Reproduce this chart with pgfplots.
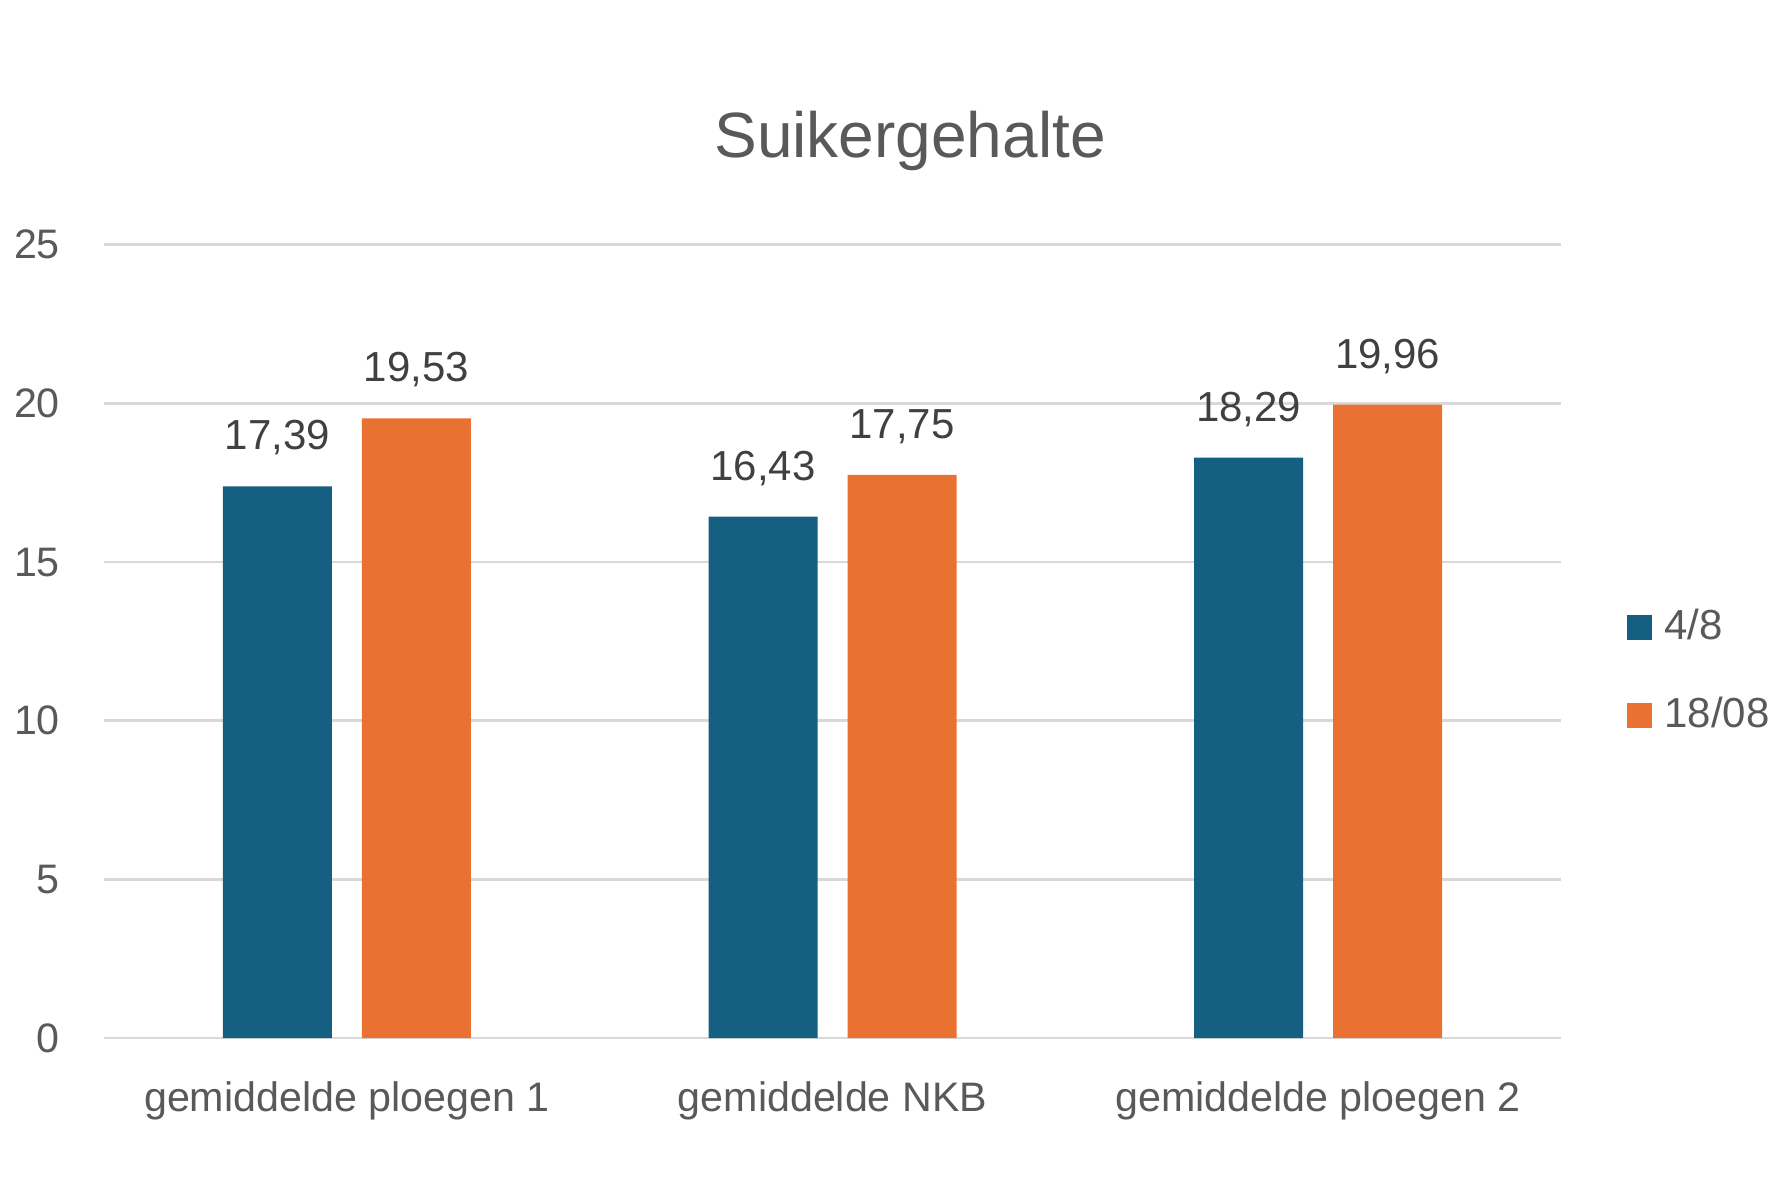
\documentclass[border=0pt]{standalone}
\usepackage{fontspec}
\setmainfont{Liberation Sans}
\usepackage{pgfplots}
\pgfplotsset{compat=1.18}
\definecolor{cblue}{HTML}{156082}
\definecolor{corange}{HTML}{E97132}
\definecolor{cgrid}{HTML}{D9D9D9}
\definecolor{ctext}{HTML}{595959}
\definecolor{clabel}{HTML}{404040}
\begin{document}
\begin{tikzpicture}
\useasboundingbox (0,0) rectangle (443pt,295.25pt);
\begin{axis}[
 at={(26pt,35.75pt)}, anchor=south west,
 scale only axis, width=364.25pt, height=198.3pt,
 xmin=-0.5, xmax=2.5, ymin=0, ymax=25,
 xtick={0,1,2}, xticklabels={gemiddelde ploegen 1, gemiddelde NKB, gemiddelde ploegen 2},
 ytick={0,5,...,25},
 major tick length=0pt,
 axis line style={draw=none},
 ymajorgrids, grid style={cgrid, line width=0.7pt},
 tick label style={font=\fontsize{10.3}{12}\selectfont, text=ctext},
 /pgf/number format/assume math mode=true,
 yticklabel style={xshift=-7.5pt},
 xticklabel style={yshift=-7.3pt},
 ybar, bar width=27.25pt,
 nodes near coords={\pgfmathprintnumber[fixed,fixed zerofill,precision=2,use comma]{\pgfplotspointmeta}},
 every node near coord/.append style={font=\fontsize{10.5}{12}\selectfont, text=clabel, yshift=4.3pt},
 legend style={at={(1.0446,0.462)}, anchor=west, draw=none, fill=none, font=\fontsize{10.5}{12}\selectfont, text=ctext, row sep=9pt, inner sep=0pt},
 legend cell align=left,
 legend image code/.code={\fill[#1] (0pt,-3.125pt) rectangle (6.25pt,3.125pt); \path (7.4pt,0pt);},
]
\addplot[fill=cblue, draw=none, bar shift=-17.375pt] coordinates {(0,17.39) (1,16.43) (2,18.29)};
\addplot[fill=corange, draw=none, bar shift=17.375pt] coordinates {(0,19.53) (1,17.75) (2,19.96)};
\legend{4/8, 18/08}
\end{axis}
\node[font=\fontsize{16}{19}\selectfont, text=ctext] at (227.5pt,259.9pt) {Suikergehalte};
\end{tikzpicture}
\end{document}
